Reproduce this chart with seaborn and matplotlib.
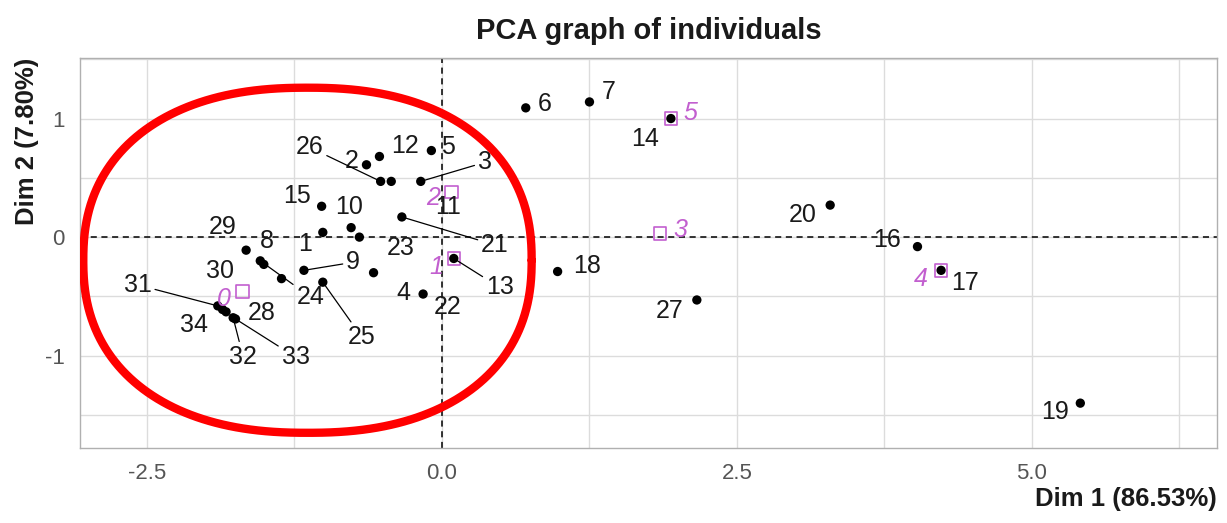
import numpy as np
import pandas as pd
import matplotlib
matplotlib.use("Agg")
import matplotlib.pyplot as plt
import seaborn as sns

# Coordenadas dos indivíduos no plano fatorial (Dim 1 x Dim 2)
IND_LABELS = [str(i) for i in range(1, 35)]
DIM1 = [-1.01, -0.64, -0.18, -0.58, -0.09, 0.71, 1.25, -1.51, -1.17, -0.77,
        -0.43, -0.53, 0.10, 1.94, -1.02, 4.03, 4.23, 0.98, 5.41, 3.29,
        -0.34, -0.16, -0.70, -1.54, -1.01, -0.52, 2.16, -1.83, -1.66, -1.36,
        -1.90, -1.77, -1.75, -1.86]
DIM2 = [0.04, 0.61, 0.47, -0.30, 0.73, 1.09, 1.14, -0.23, -0.28, 0.08,
        0.47, 0.68, -0.18, 1.00, 0.26, -0.08, -0.28, -0.29, -1.40, 0.27,
        0.17, -0.48, 0.00, -0.20, -0.38, 0.47, -0.53, -0.63, -0.11, -0.35,
        -0.58, -0.68, -0.69, -0.61]

# Centros dos grupos (variável qualitativa suplementar)
GROUP_LABELS = ["0", "1", "2", "3", "4", "5"]
GROUP_DIM1 = [-1.69, 0.10, 0.08, 1.85, 4.23, 1.94]
GROUP_DIM2 = [-0.46, -0.18, 0.38, 0.03, -0.28, 1.00]

X_TICKS = [-2.5, 0.0, 2.5, 5.0]
X_TICK_LABELS = ["-2.5", "0.0", "2.5", "5.0"]
Y_TICKS = [-1, 0, 1]

# Layout dos rótulos (deslocamento em pixels, estilo ggrepel)
LABEL_OFFSETS = {
    "1": (-18, -12), "2": (-15, 4), "3": (64, 19), "4": (30, -20), "5": (17, 4),
    "6": (19, 4), "7": (19, 10), "8": (3, 23), "9": (49, 8), "10": (-2, 21),
    "11": (57, -26), "12": (26, 10), "13": (46, -29), "14": (-26, -20),
    "15": (-25, 10), "16": (-30, 7), "17": (24, -13), "18": (29, 6),
    "19": (-25, -9), "20": (-27, -10), "21": (93, -28), "22": (25, -13),
    "23": (41, -11), "24": (50, -36), "25": (39, -55), "26": (-71, 34),
    "27": (-27, -11), "28": (36, -1), "29": (-23, 23), "30": (-62, 8),
    "31": (-80, 21), "32": (10, -39), "33": (60, -38), "34": (-29, -16),
}
SEGMENT_LABELS = {"3", "9", "13", "21", "24", "25", "26", "31", "32", "33"}
GROUP_OFFSETS = {"0": (-19, -7), "1": (-17, -9), "2": (-18, -6),
                 "3": (20, 4), "4": (-20, -9), "5": (19, 6)}

GROUP_COLOR = "#c25fcf"
GRID_COLOR = "#dcdcdc"
TEXT_COLOR = "#1a1a1a"

sns.set_theme(style="white")
plt.rcParams["font.family"] = ["Liberation Sans", "DejaVu Sans"]
plt.rcParams["axes.unicode_minus"] = False

ind = pd.DataFrame({"label": IND_LABELS, "dim1": DIM1, "dim2": DIM2})
grp = pd.DataFrame({"label": GROUP_LABELS, "dim1": GROUP_DIM1, "dim2": GROUP_DIM2})

fig = plt.figure(figsize=(12.27, 5.23), dpi=100)
ax = fig.add_axes([0.065, 0.143, 0.927, 0.746])

ax.set_xlim(-3.07, 6.57)
ax.set_ylim(-1.78, 1.51)

# grade principal + secundária
ax.set_xticks(X_TICKS)
ax.set_xticklabels(X_TICK_LABELS)
ax.set_yticks(Y_TICKS)
ax.set_xticks([-1.25, 1.25, 3.75, 6.25], minor=True)
ax.set_yticks([-1.5, -0.5, 0.5, 1.5], minor=True)
ax.grid(True, which="both", color=GRID_COLOR, linewidth=1.0, zorder=0)
ax.set_axisbelow(True)
ax.tick_params(axis="both", which="major", length=5, width=0.8, color="#aaaaaa",
               labelsize=16, labelcolor="#555555", pad=6)
ax.tick_params(axis="both", which="minor", length=0)
for sp in ax.spines.values():
    sp.set_color("#b0b0b0")
    sp.set_linewidth(1.0)

ax.axhline(0, color="black", linestyle=(0, (4, 3)), linewidth=1.1, zorder=1)
ax.axvline(0, color="black", linestyle=(0, (4, 3)), linewidth=1.1, zorder=1)

sns.scatterplot(data=grp, x="dim1", y="dim2", marker="s", s=80,
                facecolor="none", edgecolor=GROUP_COLOR, linewidth=1.2,
                ax=ax, zorder=3, legend=False)
sns.scatterplot(data=ind, x="dim1", y="dim2", color="black", s=45,
                edgecolor="none", ax=ax, zorder=4, legend=False)

for _, r in ind.iterrows():
    dx, dy = LABEL_OFFSETS[r["label"]]
    arrow = None
    if r["label"] in SEGMENT_LABELS:
        arrow = dict(arrowstyle="-", color="black", lw=0.9, shrinkA=0, shrinkB=3)
    ax.annotate(r["label"], (r["dim1"], r["dim2"]), xytext=(dx, dy),
                textcoords="offset pixels", ha="center", va="center",
                fontsize=18, color=TEXT_COLOR, arrowprops=arrow, zorder=5)

for _, r in grp.iterrows():
    dx, dy = GROUP_OFFSETS[r["label"]]
    ax.annotate(r["label"], (r["dim1"], r["dim2"]), xytext=(dx, dy),
                textcoords="offset pixels", ha="center", va="center",
                fontsize=18, color=GROUP_COLOR, style="italic", zorder=5)

# contorno vermelho à mão livre destacando o agrupamento da esquerda
t = np.linspace(0, 2 * np.pi, 400)
n = 2.3
cx, cy, a, b = -1.14, -0.195, 1.90, 1.455
lx = cx + a * np.sign(np.cos(t)) * np.abs(np.cos(t)) ** (2 / n)
ly = cy + b * np.sign(np.sin(t)) * np.abs(np.sin(t)) ** (2 / n)
ax.plot(lx, ly, color="#ff0000", linewidth=6, solid_capstyle="round", zorder=6)

ax.set_xlabel("Dim 1 (86.53%)", fontsize=18.5, fontweight="bold", loc="right",
              labelpad=2, color=TEXT_COLOR)
ax.set_ylabel("Dim 2 (7.80%)", fontsize=18.5, fontweight="bold", loc="top",
              labelpad=4, color=TEXT_COLOR)
ax.set_title("PCA graph of individuals", fontsize=21, fontweight="bold", pad=14,
             color=TEXT_COLOR)

fig.savefig("out.png", dpi=100)
